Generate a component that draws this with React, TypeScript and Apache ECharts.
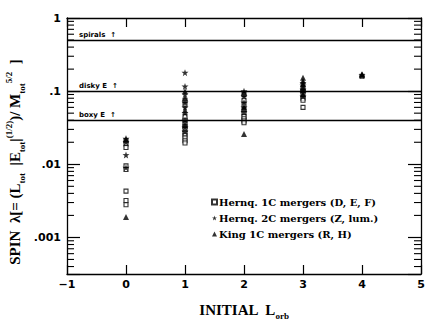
import React, { useEffect, useRef } from "react";
import * as echarts from "echarts";

// Hernq. 1C mergers (D, E, F) — open squares
const hernq1C: [number, number][] = [
  [0, 0.021], [0, 0.019], [0, 0.017], [0, 0.0095], [0, 0.0085], [0, 0.0043], [0, 0.0032], [0, 0.0028],
  [1, 0.075], [1, 0.065], [1, 0.045], [1, 0.04], [1, 0.036], [1, 0.033], [1, 0.03], [1, 0.027], [1, 0.025], [1, 0.023], [1, 0.021], [1, 0.0195],
  [2, 0.09], [2, 0.075], [2, 0.065], [2, 0.055], [2, 0.05], [2, 0.045], [2, 0.042], [2, 0.039], [2, 0.037],
  [3, 0.11], [3, 0.1], [3, 0.09], [3, 0.08], [3, 0.075], [3, 0.06],
  [4, 0.16],
];

// Hernq. 2C mergers (Z, lum.) — stars
const hernq2C: [number, number][] = [
  [0, 0.0225], [0, 0.02], [0, 0.0134], [0, 0.009],
  [1, 0.179], [1, 0.116], [1, 0.09], [1, 0.07], [1, 0.06], [1, 0.05], [1, 0.04], [1, 0.032], [1, 0.028],
  [2, 0.1], [2, 0.085], [2, 0.07], [2, 0.06], [2, 0.052],
  [3, 0.13], [3, 0.12], [3, 0.105], [3, 0.095], [3, 0.085],
  [4, 0.165],
];

// King 1C mergers (R, H) — triangles
const king1C: [number, number][] = [
  [0, 0.0019], [0, 0.022],
  [1, 0.1], [1, 0.08], [1, 0.055], [1, 0.035],
  [2, 0.095], [2, 0.06], [2, 0.026],
  [3, 0.153], [3, 0.138], [3, 0.125], [3, 0.11], [3, 0.09],
  [4, 0.17], [4, 0.168],
];

// Reference lines
const refLineValues = [0.5, 0.1, 0.04];
const refLineLabels = ["spirals  ↑", "disky E  ↑", "boxy E  ↑"];

// Axis ranges / ticks
const xMin = -1;
const xMax = 5;
const yMin = Math.pow(10, -3.5);
const yMax = 1;
const minorTickValues = [
  0.0004, 0.0005, 0.0006, 0.0007, 0.0008, 0.0009,
  0.002, 0.003, 0.004, 0.005, 0.006, 0.007, 0.008, 0.009,
  0.02, 0.03, 0.04, 0.05, 0.06, 0.07, 0.08, 0.09,
  0.2, 0.3, 0.4, 0.5, 0.6, 0.7, 0.8, 0.9,
];

const STAR =
  "path://M0,-10 L2.35,-3.24 9.51,-3.09 3.8,1.24 5.88,8.09 0,4 -5.88,8.09 -3.8,1.24 -9.51,-3.09 -2.35,-3.24Z";

const LABEL_FONT = "'DejaVu Sans', 'Liberation Sans', sans-serif";
const SERIF = "'Liberation Serif', 'DejaVu Serif', serif";

export default function App() {
  const ref = useRef<HTMLDivElement>(null);

  useEffect(() => {
    document.body.style.margin = "0";
    if (!ref.current) return;
    const chart = echarts.init(ref.current, undefined, { renderer: "svg" });

    const axisLine = { show: true, onZero: false, lineStyle: { color: "#000", width: 1.3 } };
    const majorTickX = { show: true, inside: true, length: 9, lineStyle: { color: "#000", width: 1.2 } };
    const majorTickY = { show: true, inside: true, length: 13, lineStyle: { color: "#000", width: 1.2 } };

    const option: any = {
      animation: false,
      backgroundColor: "#fff",
      grid: { left: 67, right: 15, top: 18, bottom: 49 },
      legend: {
        data: [
          "Hernq. 1C mergers (D, E, F)",
          "Hernq. 2C mergers (Z, lum.)",
          "King 1C mergers (R, H)",
        ],
        orient: "vertical",
        left: 206,
        top: 192,
        itemWidth: 5,
        itemHeight: 5,
        itemGap: 6,
        selectedMode: false,
        textStyle: {
          fontFamily: "'DejaVu Serif', serif",
          fontWeight: "bold",
          fontSize: 10,
          color: "#000",
          padding: [0, 0, 0, -3],
        },
      },
      xAxis: [
        {
          type: "value",
          min: xMin,
          max: xMax,
          interval: 1,
          position: "bottom",
          axisLine,
          axisTick: majorTickX,
          splitLine: { show: false },
          axisLabel: {
            color: "#000",
            fontFamily: LABEL_FONT,
            fontWeight: "bold",
            fontSize: 11,
            margin: 5,
            formatter: (v: number) => (v < 0 ? "−" + Math.abs(v) : String(v)),
          },
          name: "{a|INITIAL  L}{s|orb}",
          nameLocation: "middle",
          nameGap: 26,
          nameTextStyle: {
            rich: {
              a: { fontFamily: SERIF, fontSize: 15, fontWeight: "bold", color: "#000", lineHeight: 20, verticalAlign: "middle" },
              s: { fontFamily: SERIF, fontSize: 9, fontWeight: "bold", color: "#000", lineHeight: 10, verticalAlign: "bottom" },
            },
          },
        },
        {
          type: "value",
          min: xMin,
          max: xMax,
          interval: 1,
          position: "top",
          axisLine,
          axisTick: majorTickX,
          axisLabel: { show: false },
          splitLine: { show: false },
        },
      ],
      yAxis: [
        {
          type: "log",
          logBase: 10,
          min: yMin,
          max: yMax,
          position: "left",
          axisLine,
          axisTick: majorTickY,
          splitLine: { show: false },
          axisLabel: {
            color: "#000",
            fontFamily: LABEL_FONT,
            fontWeight: "bold",
            fontSize: 11,
            margin: 6,
            formatter: (v: number) => {
              const l = Math.log10(v);
              if (Math.abs(l - Math.round(l)) > 1e-6) return "";
              const p = Math.round(l);
              if (p === 0) return "1";
              return "." + "0".repeat(-p - 1) + "1";
            },
          },
        },
        {
          type: "log",
          logBase: 10,
          min: yMin,
          max: yMax,
          position: "right",
          axisLine,
          axisTick: majorTickY,
          axisLabel: { show: false },
          splitLine: { show: false },
        },
      ],
      graphic: [
        {
          type: "text",
          x: 15,
          y: 162,
          rotation: Math.PI / 2,
          style: {
            text:
              "{b|SPIN  λ[= (L}{s|tot}{b|  |E}{s|tot}{b||}{p|(1/2)}{b|)/ M}{s|tot}{p|5/2}{b|  ]}",
            align: "center",
            verticalAlign: "middle",
            rich: {
              b: { fontFamily: SERIF, fontSize: 15, fontWeight: "bold", fill: "#000", lineHeight: 22, verticalAlign: "middle" },
              s: { fontFamily: SERIF, fontSize: 9, fontWeight: "bold", fill: "#000", lineHeight: 10, verticalAlign: "bottom" },
              p: { fontFamily: SERIF, fontSize: 9, fontWeight: "bold", fill: "#000", lineHeight: 10, verticalAlign: "top" },
            },
          },
        },
      ],
      series: [
        {
          name: "minorTicks",
          type: "custom",
          xAxisIndex: 0,
          yAxisIndex: 0,
          silent: true,
          clip: false,
          data: minorTickValues.map((v) => [xMin, v]),
          encode: { x: 0, y: 1 },
          renderItem: (_p: any, api: any) => {
            const v = api.value(1);
            const l = api.coord([xMin, v]);
            const r = api.coord([xMax, v]);
            return {
              type: "group",
              children: [
                { type: "line", shape: { x1: l[0], y1: l[1], x2: l[0] + 7, y2: l[1] }, style: { stroke: "#000", lineWidth: 1.1 } },
                { type: "line", shape: { x1: r[0] - 7, y1: r[1], x2: r[0], y2: r[1] }, style: { stroke: "#000", lineWidth: 1.1 } },
              ],
            };
          },
        },
        {
          name: "refLines",
          type: "scatter",
          data: [],
          silent: true,
          markLine: {
            silent: true,
            symbol: ["none", "none"],
            lineStyle: { color: "#000", width: 1.3, type: "solid" },
            label: {
              show: true,
              position: "insideStartTop",
              distance: [12, 2],
              color: "#000",
              fontFamily: LABEL_FONT,
              fontWeight: "bold",
              fontSize: 7,
              formatter: (p: any) => p.name,
            },
            data: refLineValues.map((v, i) => ({ yAxis: v, name: refLineLabels[i] })),
          },
        },
        {
          name: "Hernq. 1C mergers (D, E, F)",
          type: "scatter",
          data: hernq1C,
          symbol: "rect",
          symbolSize: 4,
          itemStyle: { color: "#fff", borderColor: "#000", borderWidth: 1.1 },
          z: 3,
        },
        {
          name: "Hernq. 2C mergers (Z, lum.)",
          type: "scatter",
          data: hernq2C,
          symbol: STAR,
          symbolSize: 7,
          itemStyle: { color: "#000" },
          z: 4,
        },
        {
          name: "King 1C mergers (R, H)",
          type: "scatter",
          data: king1C,
          symbol: "triangle",
          symbolSize: 6,
          itemStyle: { color: "#000" },
          z: 5,
        },
      ],
    };

    chart.setOption(option);
    return () => chart.dispose();
  }, []);

  return <div ref={ref} style={{ width: 436, height: 325 }} />;
}
